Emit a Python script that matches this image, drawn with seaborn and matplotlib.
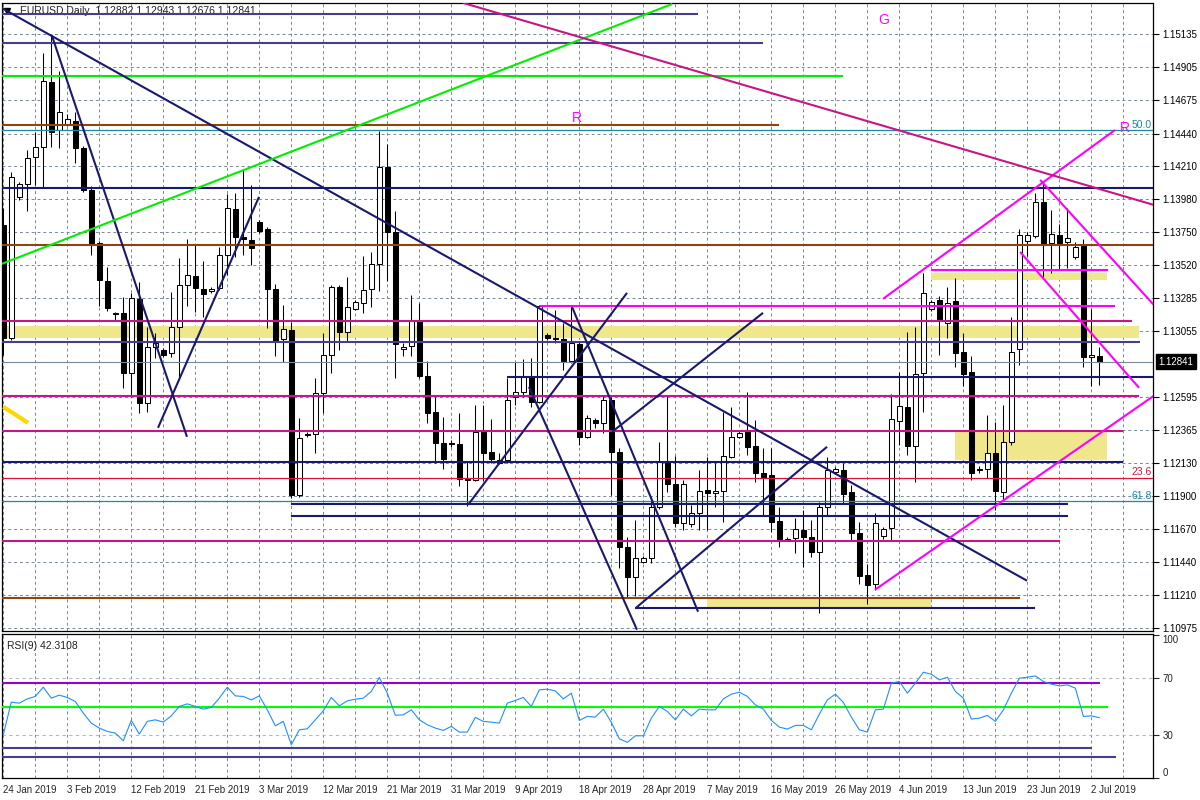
import numpy as np
import pandas as pd
import seaborn as sns
import matplotlib.pyplot as plt

# EURUSD daily bars (24 Jan 2019 .. 3 Jul 2019)
opens = [1.13800, 1.13009, 1.13996, 1.14087, 1.14276, 1.14346, 1.14801, 1.14465, 1.14507, 1.14528,
         1.14339, 1.14045, 1.13674, 1.13408, 1.13184, 1.13184, 1.12764, 1.13282, 1.12554, 1.12946,
         1.12925, 1.12904, 1.13086, 1.13380, 1.13443, 1.13352, 1.13338, 1.13359, 1.13590, 1.13912,
         1.13716, 1.13695, 1.13821, 1.13772, 1.13352, 1.13002, 1.13065, 1.11910, 1.12337, 1.12337,
         1.12624, 1.12890, 1.13366, 1.13051, 1.13212, 1.13254, 1.13352, 1.13527, 1.14206, 1.13751,
         1.12932, 1.12953, 1.13135, 1.12743, 1.12491, 1.12274, 1.12274, 1.12267, 1.12022, 1.12015,
         1.12351, 1.12211, 1.12155, 1.12155, 1.12596, 1.12631, 1.12743, 1.12561, 1.13030, 1.13009,
         1.13002, 1.12848, 1.12967, 1.12316, 1.12435, 1.12414, 1.12575, 1.12211, 1.11546, 1.11336,
         1.11441, 1.11469, 1.11826, 1.12141, 1.11987, 1.11714, 1.11707, 1.11784, 1.11945, 1.11924,
         1.11938, 1.12176, 1.12316, 1.12351, 1.12253, 1.12064, 1.12050, 1.11728, 1.11602, 1.11609,
         1.11665, 1.11616, 1.11511, 1.11826, 1.12071, 1.12085, 1.11931, 1.11644, 1.11350, 1.11287,
         1.11623, 1.11679, 1.12428, 1.12526, 1.12253, 1.12764, 1.13212, 1.13275, 1.13114, 1.13268,
         1.12911, 1.12771, 1.12092, 1.12092, 1.12204, 1.11931, 1.12281, 1.12932, 1.13688, 1.13723,
         1.13961, 1.13674, 1.13730, 1.13681, 1.13576, 1.13653, 1.12876, 1.12882]
highs = [1.13919, 1.14171, 1.14101, 1.14325, 1.14451, 1.15004, 1.15130, 1.14878, 1.14577, 1.14591,
         1.14353, 1.14073, 1.13688, 1.13506, 1.13191, 1.13296, 1.13324, 1.13401, 1.13086, 1.13044,
         1.12939, 1.13331, 1.13569, 1.13702, 1.13660, 1.13548, 1.13366, 1.13646, 1.14017, 1.14024,
         1.14192, 1.14080, 1.13835, 1.13786, 1.13387, 1.13240, 1.13121, 1.12449, 1.12351, 1.12729,
         1.13044, 1.13380, 1.13380, 1.13436, 1.13275, 1.13583, 1.13611, 1.14458, 1.14367, 1.13898,
         1.12974, 1.13310, 1.13254, 1.12848, 1.12596, 1.12456, 1.12295, 1.12484, 1.12141, 1.12540,
         1.12540, 1.12442, 1.12204, 1.12729, 1.12841, 1.12862, 1.12869, 1.13240, 1.13044, 1.13205,
         1.13114, 1.13233, 1.12981, 1.12470, 1.12449, 1.12610, 1.12596, 1.12239, 1.11616, 1.11735,
         1.11483, 1.11896, 1.12281, 1.12610, 1.12183, 1.12015, 1.11840, 1.12085, 1.12176, 1.12134,
         1.12491, 1.12526, 1.12358, 1.12631, 1.12435, 1.12239, 1.12239, 1.11826, 1.11616, 1.11749,
         1.11805, 1.11735, 1.11861, 1.12176, 1.12106, 1.12134, 1.11980, 1.11721, 1.11427, 1.11784,
         1.11686, 1.12617, 1.12771, 1.13051, 1.13086, 1.13464, 1.13275, 1.13303, 1.13366, 1.13429,
         1.13044, 1.12883, 1.12113, 1.12470, 1.12421, 1.12540, 1.13156, 1.13772, 1.13751, 1.14024,
         1.14101, 1.13905, 1.13807, 1.13919, 1.13681, 1.13702, 1.13212, 1.12943]
lows = [1.12890, 1.12995, 1.13975, 1.13898, 1.14080, 1.14066, 1.14346, 1.14339, 1.14493, 1.14234,
        1.14031, 1.13590, 1.13233, 1.13198, 1.13135, 1.12659, 1.12596, 1.12484, 1.12491, 1.12869,
        1.12876, 1.12876, 1.12736, 1.13233, 1.13191, 1.13156, 1.13324, 1.13345, 1.13450, 1.13576,
        1.13590, 1.13520, 1.13744, 1.13079, 1.12883, 1.12841, 1.11889, 1.11896, 1.12316, 1.12204,
        1.12484, 1.12764, 1.12925, 1.12988, 1.13205, 1.13184, 1.13226, 1.13338, 1.13408, 1.12729,
        1.12883, 1.12883, 1.12729, 1.12414, 1.12134, 1.12092, 1.12246, 1.11973, 1.11833, 1.12008,
        1.12008, 1.12134, 1.12127, 1.12134, 1.12540, 1.12596, 1.12526, 1.12554, 1.12995, 1.12974,
        1.12785, 1.12834, 1.12260, 1.12309, 1.12379, 1.12344, 1.11910, 1.11399, 1.11196, 1.11203,
        1.11434, 1.11434, 1.11812, 1.11931, 1.11686, 1.11665, 1.11686, 1.11665, 1.11665, 1.11826,
        1.11721, 1.12169, 1.12309, 1.12190, 1.12001, 1.11770, 1.11651, 1.11546, 1.11588, 1.11504,
        1.11406, 1.11476, 1.11084, 1.11770, 1.12057, 1.11854, 1.11595, 1.11287, 1.11147, 1.11245,
        1.11602, 1.11595, 1.12260, 1.12190, 1.12001, 1.12491, 1.13198, 1.12890, 1.13009, 1.12806,
        1.12673, 1.12015, 1.12064, 1.12029, 1.11805, 1.11875, 1.12260, 1.12820, 1.13583, 1.13709,
        1.13436, 1.13464, 1.13485, 1.13499, 1.13562, 1.12806, 1.12673, 1.12676]
closes = [1.13009, 1.14136, 1.14087, 1.14269, 1.14346, 1.14808, 1.14451, 1.14591, 1.14542, 1.14339,
          1.14045, 1.13674, 1.13415, 1.13219, 1.13177, 1.12764, 1.13289, 1.12554, 1.12946, 1.12974,
          1.12890, 1.13086, 1.13380, 1.13450, 1.13359, 1.13317, 1.13352, 1.13590, 1.13919, 1.13716,
          1.13702, 1.13639, 1.13758, 1.13352, 1.12988, 1.13072, 1.11910, 1.12309, 1.12330, 1.12624,
          1.12890, 1.13366, 1.13051, 1.13226, 1.13261, 1.13345, 1.13527, 1.14206, 1.13751, 1.12967,
          1.12946, 1.13135, 1.12743, 1.12484, 1.12274, 1.12162, 1.12267, 1.12022, 1.12015, 1.12351,
          1.12204, 1.12162, 1.12134, 1.12575, 1.12631, 1.12736, 1.12561, 1.13233, 1.13009, 1.13002,
          1.12848, 1.12974, 1.12316, 1.12449, 1.12414, 1.12575, 1.12211, 1.11546, 1.11336, 1.11469,
          1.11469, 1.11826, 1.12141, 1.11987, 1.11714, 1.11987, 1.11784, 1.11938, 1.11924, 1.11938,
          1.12183, 1.12316, 1.12344, 1.12246, 1.12064, 1.12036, 1.11721, 1.11602, 1.11595, 1.11672,
          1.11616, 1.11511, 1.11826, 1.12085, 1.12092, 1.11917, 1.11644, 1.11343, 1.11280, 1.11714,
          1.11672, 1.12442, 1.12533, 1.12253, 1.12757, 1.13324, 1.13261, 1.13135, 1.13254, 1.12904,
          1.12757, 1.12064, 1.12085, 1.12204, 1.11938, 1.12281, 1.12911, 1.13730, 1.13730, 1.13961,
          1.13674, 1.13737, 1.13674, 1.13709, 1.13646, 1.12876, 1.12890, 1.12841]
rsi9 = [30.3, 53.2, 52.5, 55.5, 57.2, 63.7, 56.0, 58.1, 56.5, 53.7,
        45.5, 38.5, 35.0, 32.7, 31.5, 26.1, 40.4, 30.8, 39.7, 40.8,
        39.2, 43.6, 50.2, 52.0, 50.2, 48.3, 49.5, 56.0, 63.7, 57.6,
        57.2, 54.8, 57.6, 47.8, 36.6, 39.7, 23.3, 33.8, 34.5, 40.8,
        47.1, 56.5, 50.6, 54.1, 55.3, 56.0, 60.7, 70.5, 59.5, 44.0,
        44.3, 47.8, 40.8, 37.3, 35.0, 33.4, 36.2, 32.2, 32.2, 42.5,
        39.7, 39.2, 38.5, 52.5, 54.4, 56.5, 50.2, 61.8, 62.3, 61.1,
        55.5, 59.5, 40.4, 43.2, 42.7, 48.3, 39.0, 27.5, 25.0, 29.6,
        29.6, 42.0, 50.2, 46.7, 40.8, 48.3, 43.6, 48.3, 47.8, 47.8,
        55.5, 58.8, 60.2, 57.2, 51.3, 48.3, 40.4, 35.7, 34.3, 36.9,
        36.9, 33.8, 44.8, 54.8, 58.8, 53.0, 42.7, 33.8, 32.2, 47.8,
        48.3, 66.5, 67.7, 59.5, 66.5, 74.2, 72.8, 68.8, 70.7, 60.7,
        56.0, 41.3, 42.0, 43.9, 39.7, 47.8, 59.5, 70.0, 70.7, 71.6,
        67.7, 65.8, 64.6, 65.3, 63.0, 43.2, 43.6, 42.3]

price_ticks = [1.15135, 1.14905, 1.14675, 1.14440, 1.14210, 1.13980, 1.13750, 1.13520, 1.13285,
               1.13055, 1.12595, 1.12365, 1.12130, 1.11900, 1.11670, 1.11440, 1.11210, 1.10975]
date_labels = ['24 Jan 2019', '3 Feb 2019', '12 Feb 2019', '21 Feb 2019', '3 Mar 2019', '12 Mar 2019',
               '21 Mar 2019', '31 Mar 2019', '9 Apr 2019', '18 Apr 2019', '28 Apr 2019', '7 May 2019',
               '16 May 2019', '26 May 2019', '4 Jun 2019', '13 Jun 2019', '23 Jun 2019', '2 Jul 2019']
rsi_ticks = [0, 30, 70, 100]
last_price = 1.12841
header = 'EURUSD,Daily  1.12882 1.12943 1.12676 1.12841'
rsi_label = 'RSI(9) 42.3108'

# chart objects drawn by the trader: (price, first bar, last bar)
navy_levels = [(1.14059, -1, 145), (1.12736, 63, 145), (1.12141, -1, 140), (1.11847, 36, 133.1),
               (1.11763, 36, 133.1), (1.11116, 79, 129)]
slate_levels = [(1.15277, -1, 86.8), (1.15074, -1, 95), (1.12981, -1, 142.1)]
brown_levels = [(1.14500, -1, 97), (1.13660, -1, 145), (1.11189, -1, 127.1)]
violet_levels = [(1.13128, -1, 141.1), (1.12603, -1, 142), (1.12358, -1, 140), (1.11588, -1, 132.1)]
magenta_levels = [(1.13482, 115.9, 138.1), (1.13233, 67.1, 139)]
green_levels = [(1.14843, -1, 105)]
zones = [(1.13005, 1.13090, -1, 142), (1.13415, 1.13464, 115.9, 138),
         (1.12155, 1.12355, 119, 138), (1.11123, 1.11189, 88, 116)]
fibo = [('50.0', 1.14462, '#1a8a9c'), ('23.6', 1.12029, '#dc143c'), ('61.8', 1.11865, '#1a8a9c')]
navy_trends = [(-0.2, 1.15319, 127.96, 1.11308), (6.05, 1.15130, 22.96, 1.12316),
               (19.34, 1.12379, 31.96, 1.13996), (58.1, 1.11840, 77.96, 1.13324),
               (71.09, 1.13226, 86.84, 1.11091), (65.7, 1.12666, 79.2, 1.10965),
               (76.1, 1.12351, 94.96, 1.13184), (79.1, 1.11119, 102.96, 1.12246)]
magenta_trends = [(109.96, 1.13282, 138.96, 1.14465), (129.6, 1.14115, 143.8, 1.13240),
                  (127.09, 1.13611, 141.96, 1.12659), (108.96, 1.11245, 143.8, 1.12603)]
green_trends = [(-0.2, 1.13527, 83.6, 1.15347)]
violet_trends = [(57.5, 1.15354, 143.8, 1.13940)]
gold_trends = [(0, 1.12526, 3.09, 1.12414)]
letters = [('G', 110.1, 1.15235), ('R', 71.7, 1.14549), ('R', 140.2, 1.14479)]
rsi_levels = [(66.5, '#9400d3', 137.1), (49.5, '#00ff00', 138.1), (21.0, '#483d8b', 136.1),
              (14.5, '#483d8b', 139.1)]

bars = pd.DataFrame({'open': opens, 'high': highs, 'low': lows, 'close': closes, 'rsi': rsi9})
bars['bar'] = np.arange(len(bars))

sns.set_theme(style='white')
plt.rcParams['font.family'] = ['Liberation Sans', 'DejaVu Sans']

fig = plt.figure(figsize=(12, 8), dpi=100)
ax = fig.add_axes([2 / 1200, 1 - 631 / 800, 1151 / 1200, 628 / 800])
ax2 = fig.add_axes([2 / 1200, 1 - 778 / 800, 1151 / 1200, 144 / 800])

grid_kw = dict(color='#778899', lw=0.7, ls=(0, (3, 3)), zorder=0.5)
for a in (ax, ax2):
    for b in range(0, 144, 4):
        a.axvline(b, **grid_kw)
for p in price_ticks:
    ax.axhline(p, **grid_kw)

# zones (background)
for lo, hi, b0, b1 in zones:
    ax.fill_between([b0, b1], lo, hi, color='#f0e68c', lw=0, zorder=1)

# candles
up = bars['close'] >= bars['open']
ax.vlines(bars['bar'], bars['low'], bars['high'], color='black', lw=0.75, zorder=3)
body_lo = np.minimum(bars['open'], bars['close'])
body_h = np.maximum((bars['close'] - bars['open']).abs(), 0.000015)
ax.bar(bars['bar'], body_h, bottom=body_lo, width=0.64,
       color=np.where(up, 'white', 'black'), edgecolor='black', linewidth=0.75, zorder=4)

# horizontal levels
def levels(items, color, lw=1.5):
    for p, b0, b1 in items:
        ax.plot([b0, b1], [p, p], color=color, lw=lw, zorder=5, solid_capstyle='butt')

levels(navy_levels, '#191970')
levels(slate_levels, '#483d8b')
levels(brown_levels, '#8b4513')
levels(violet_levels, '#c71585')
levels(magenta_levels, '#ff00ff')
levels(green_levels, '#00ee00')
ax.axhline(last_price, color='#778899', lw=0.8, zorder=5)
for txt, p, c in fibo:
    ax.axhline(p, color=c, lw=0.9, zorder=5)
    ax.text(143.5, p + 0.00004, txt, color=c, fontsize=7.5, ha='right', va='bottom', zorder=6)

def trends(items, color, lw=1.5):
    for b0, p0, b1, p1 in items:
        ax.plot([b0, b1], [p0, p1], color=color, lw=lw, zorder=5, solid_capstyle='butt')

trends(navy_trends, '#191970')
trends(magenta_trends, '#ff00ff')
trends(green_trends, '#00ee00')
trends(violet_trends, '#c71585')
trends(gold_trends, '#ffd700', lw=3)
for t, b, p in letters:
    ax.text(b, p, t, color='#ff00ff', fontsize=10, ha='center', va='center', zorder=6)

ax.set_xlim(-0.16, 143.7)
ax.set_ylim(1.10956, 1.15354)
ax.set_xticks([])
ax.yaxis.tick_right()
ax.set_yticks(price_ticks)
ax.set_yticklabels([f'{p:.5f}' for p in price_ticks])
ax.tick_params(axis='y', length=4, width=0.8, pad=3, labelsize=7, colors='black', direction='out')
ax.annotate(f'{last_price:.5f}', xy=(1.0, last_price), xycoords=('axes fraction', 'data'),
            xytext=(4, 0), textcoords='offset points', va='center', ha='left', fontsize=7,
            color='white', bbox=dict(boxstyle='square,pad=0.25', fc='black', ec='black'))
ax.plot([0.004], [0.988], marker='v', color='black', ms=4, transform=ax.transAxes, clip_on=False)
ax.text(0.016, 0.988, header, transform=ax.transAxes, fontsize=7.5, color='#222222', va='center')

# RSI panel
for lv in (70, 30):
    ax2.axhline(lv, color='#b8b8b8', lw=0.8, ls=(0, (3, 3)), zorder=0.6)
for lv, c, b1 in rsi_levels:
    ax2.plot([-1, b1], [lv, lv], color=c, lw=1.5, zorder=3, solid_capstyle='butt')
sns.lineplot(data=bars, x='bar', y='rsi', ax=ax2, color='#1e90ff', lw=0.8, zorder=4)
ax2.set_xlim(-0.16, 143.7)
ax2.set_ylim(0.2, 101)
ax2.set_xlabel('')
ax2.set_ylabel('')
ax2.yaxis.tick_right()
ax2.set_yticks(rsi_ticks)
ax2.set_yticklabels([str(v) for v in rsi_ticks])
ax2.tick_params(axis='y', length=4, width=0.8, pad=3, labelsize=7, direction='out')
ylabs = ax2.get_yticklabels()
ylabs[0].set_va('bottom')
ylabs[-1].set_va('top')
ax2.set_xticks(bars['bar'][::8])
ax2.set_xticklabels(date_labels, ha='left')
ax2.tick_params(axis='x', length=3, width=0.8, pad=2, labelsize=7, direction='out')
ax2.text(0.004, 0.92, rsi_label, transform=ax2.transAxes, fontsize=7.5, color='#222222', va='center')

for a in (ax, ax2):
    for s in a.spines.values():
        s.set_color('black')
        s.set_linewidth(0.9)

fig.savefig('out.png', dpi=100, facecolor='white')
